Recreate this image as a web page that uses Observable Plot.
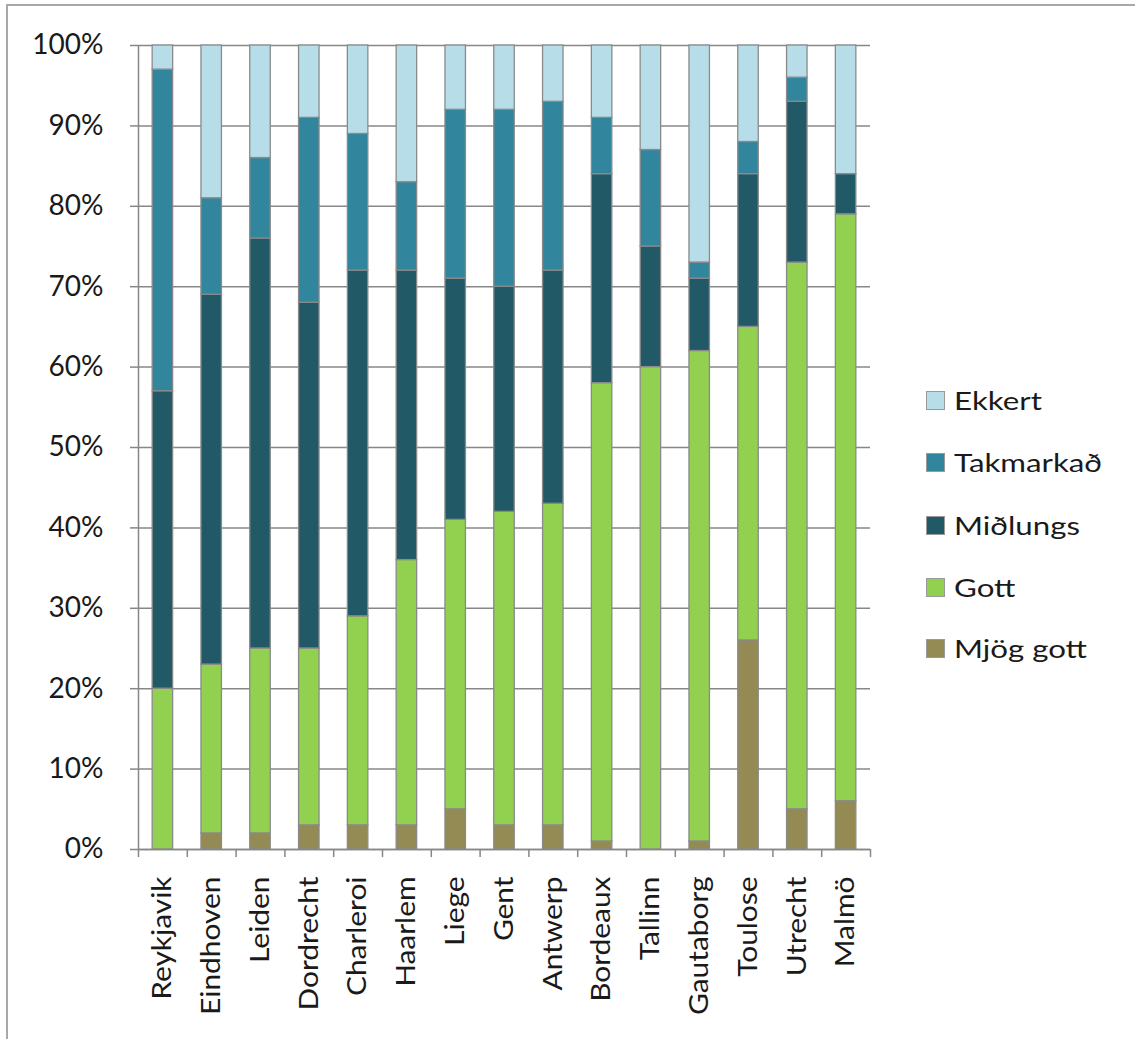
<!DOCTYPE html>
<html><head><meta charset="utf-8">
<script src="https://cdn.jsdelivr.net/npm/d3@7"></script>
<script src="https://cdn.jsdelivr.net/npm/@observablehq/plot@0.6"></script>
<style>
body{margin:0;background:#fff;font-family:Lato,sans-serif;}
#wrap{position:relative;width:1135px;height:1039px;overflow:hidden;background:#fff;}
#frame{position:absolute;left:6px;top:4px;width:1200px;height:1100px;border:2px solid #a8a8a8;box-sizing:border-box;}
#chart{position:absolute;left:0;top:0;}
.item{position:absolute;left:926px;height:62px;display:flex;align-items:center;font-family:Lato,sans-serif;font-size:25px;color:#1a1a1a;white-space:nowrap;}
.item span{display:inline-block;transform:scaleX(1.25);transform-origin:left center;}
.sw{width:19px;height:19px;border:1px solid #9a9a9a;margin-right:9px;box-sizing:border-box;}
</style></head>
<body>
<div id="wrap"><div id="frame"></div><div id="chart"></div><div id="legend"></div></div>
<script>
const cities = ["Reykjavik","Eindhoven","Leiden","Dordrecht","Charleroi","Haarlem","Liege","Gent","Antwerp","Bordeaux","Tallinn","Gautaborg","Toulose","Utrecht","Malmö"];
const mjogGott  = [0, 2, 2, 3, 3, 3, 5, 3, 3, 1, 0, 1, 26, 5, 6];
const gott      = [20,21,23,22,26,33,36,39,40,57,60,61,39,68,73];
const midlungs  = [37,46,51,43,43,36,30,28,29,26,15, 9,19,20, 5];
const takmarkad = [40,12,10,23,17,11,21,22,21, 7,12, 2, 4, 3, 0];
const ekkert    = [3, 19,14, 9,11,17, 8, 8, 7, 9,13,27,12, 4,16];
const levels = ["Mjög gott","Gott","Miðlungs","Takmarkað","Ekkert"];
const colors = ["#948a54","#92d050","#215967","#31859c","#b6dde8"];
const yTicks = [0,10,20,30,40,50,60,70,80,90,100];

const series = [mjogGott, gott, midlungs, takmarkad, ekkert];
const rows = cities.flatMap((c,i) => levels.map((l,j) => ({city:c, level:l, value:series[j][i]})));

const W = 1135, H = 1039, mL = 138, mR = 265, mT = 45, mB = 190;
const step = (W - mL - mR) / cities.length;
const grey = "#878787";

const chart = Plot.plot({
  width: W, height: H,
  marginLeft: mL, marginRight: mR, marginTop: mT, marginBottom: mB,
  style: {fontFamily: "Lato, sans-serif", fontSize: "28px", color: "#1a1a1a", background: "transparent", overflow: "visible"},
  x: {domain: cities, paddingInner: 0.58, paddingOuter: 0.29, round: false, axis: null},
  y: {domain: [0, 100], axis: null},
  color: {domain: levels, range: colors},
  marks: [
    Plot.gridY(yTicks, {stroke: grey, strokeOpacity: 1, strokeWidth: 1.5}),
    Plot.barY(rows, {x: "city", y: "value", fill: "level", stroke: "#8a8a8a", strokeWidth: 1.3, order: levels}),
    Plot.ruleY([0], {stroke: grey, strokeWidth: 1.5}),
    Plot.ruleX(cities.slice(0,1), {x: d => d, y1: -1, y2: 100, dx: -step/2, stroke: grey, strokeWidth: 1.5}),
    Plot.ruleX(cities, {x: d => d, y1: -1, y2: 0, dx: step/2, stroke: grey, strokeWidth: 1.5}),
    Plot.axisY(yTicks, {tickSize: 8, tickPadding: 27, tickFormat: d => d + "%", label: null, stroke: grey, strokeWidth: 1.5}),
    Plot.axisX({tickRotate: -90, tickSize: 0, tickPadding: 27, label: null, fill: "#1a1a1a", fontSize: 26})
  ]
});
chart.querySelectorAll("text").forEach(t => {
  const tr = t.getAttribute("transform");
  if (tr && tr.includes("rotate(-90)")) t.setAttribute("transform", tr + " scale(1.15,1)");
});
document.getElementById("chart").appendChild(chart);

const legendOrder = ["Ekkert","Takmarkað","Miðlungs","Gott","Mjög gott"];
const centers = [400, 462, 525, 587, 648];
const leg = document.getElementById("legend");
legendOrder.forEach((l, i) => {
  const d = document.createElement("div");
  d.className = "item";
  d.style.top = (centers[i] - 31) + "px";
  const s = document.createElement("div");
  s.className = "sw";
  s.style.background = colors[levels.indexOf(l)];
  d.appendChild(s);
  const sp = document.createElement("span");
  sp.textContent = l;
  d.appendChild(sp);
  leg.appendChild(d);
});
</script>
</body></html>
